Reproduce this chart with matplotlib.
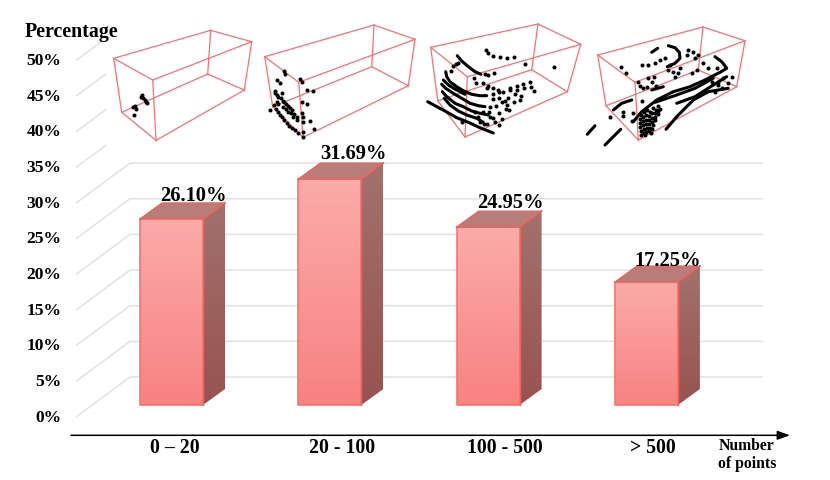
"""
Share of scans per point-count bucket: fake-3D bars with a small point cloud
thumbnail above each bar.
"""

import matplotlib
matplotlib.use("Agg")
import matplotlib.pyplot as plt
import numpy as np
from matplotlib.patches import Polygon

plt.rcParams["font.family"] = ["Liberation Serif", "DejaVu Serif"]
plt.rcParams["font.weight"] = "bold"

W, H = 830, 480

CATEGORIES = ["0 – 20", "20 - 100", "100 - 500", "> 500"]
VALUES = [26.10, 31.69, 24.95, 17.25]
VALUE_LABELS = ["26.10%", "31.69%", "24.95%", "17.25%"]
TICKS = [0, 5, 10, 15, 20, 25, 30, 35, 40, 45, 50]

# Thumbnail boxes: outer corners A, B, C, D then lower corners A', B', C', D' (image pixels)
BOX_1 = [(113.7, 58.3), (210.7, 30.3), (251.7, 41.7), (152.7, 80),
         (121.7, 112.3), (207.7, 74), (244.3, 90), (156, 140.3)]
BOX_2 = [(264.7, 56.7), (374, 25), (415, 39.3), (298.7, 82.3),
         (272.7, 106.7), (371.7, 66.7), (408.3, 85.7), (303, 137.3)]
BOX_3 = [(430.7, 47.3), (538, 24), (580.7, 44.3), (467.3, 76.7),
         (437.7, 100.7), (531.7, 69.7), (567.3, 91.7), (465, 137)]
BOX_4 = [(597.7, 55), (703, 27), (745, 40.7), (635, 82.3),
         (606, 105.7), (698.3, 70), (736.7, 86.7), (638.3, 140)]

# Scan points (image pixels)
DOTS_1 = [(142.3, 95), (140.7, 97), (143.3, 98.3), (145, 100.3), (147.3, 103.3), (146, 102),
          (135, 106), (133.3, 107.3), (135.7, 108.7), (134.3, 115)]
DOTS_2 = [(284, 71), (284.7, 73.7), (300.3, 79.3), (301.7, 81.7), (277.3, 80), (280, 82.7),
          (306.7, 89.7), (313.3, 91), (302, 101.7), (307, 103.7), (275.3, 91), (274.7, 93),
          (276.7, 95), (278.3, 96.7), (281.7, 93.3), (280.7, 98.3), (282.7, 101), (270, 109.7),
          (274, 105), (275.7, 109), (277.7, 111.7), (280, 115), (282, 117.3), (284.3, 120),
          (286.7, 122.7), (289.3, 126), (292.3, 128.3), (295, 130), (298.3, 132.7), (302.7, 132),
          (303.3, 137.3), (314.3, 129.3), (310.3, 121), (302.7, 121.7), (302.7, 116.7), (301.7, 113.3),
          (296.7, 116.7), (294, 114.3), (292.3, 110), (290.3, 108.3), (288.3, 106), (286, 104.3),
          (284, 102.3), (283.3, 106.7), (286, 109), (288.3, 111.7), (291, 113.3), (293.3, 117.3),
          (296.7, 120), (276.7, 101.7), (278.3, 104)]
DOTS_3 = [(474, 77.7), (475.7, 83.3), (483.3, 83.3), (487.3, 87.7), (488.3, 85.7), (493.3, 87.7),
          (498.3, 90), (503.3, 91.7), (510, 87.7), (516.7, 85.7), (523.3, 84), (530, 81.7),
          (531, 86.7), (534.3, 91), (524.3, 88.3), (516.7, 90), (521, 95.7), (515, 94.3),
          (510, 90), (499, 92.3), (493.3, 94), (492.7, 99), (499, 98.3), (505, 100.7),
          (514.3, 101.7), (520, 100), (508.3, 98.3), (502.3, 101.7), (506.7, 105), (505.7, 109),
          (509, 110.3), (495.7, 105.7), (490, 106.7), (483.3, 112.3), (489, 112.3), (490.3, 116.7),
          (495, 121.7), (499, 113.3), (501.7, 119), (499, 125), (462.3, 122.3), (475, 112.3),
          (478.3, 116.7), (486.7, 124.3), (484.3, 124.3), (480, 121.7), (493.3, 117.7),
          (486, 49.7), (488.3, 53.3), (493.3, 55.7), (500, 57.3), (506.7, 57.7), (514.3, 57.3),
          (485, 74.3), (488.3, 75), (493.7, 73.3), (453, 66), (455.7, 64.3), (457.7, 63), (451, 70.7),
          (525, 64), (554, 67.3)]
DOTS_4 = [(620.7, 66.7), (626, 73.3), (610, 116.7), (623.3, 112.3), (623.3, 116), (631.7, 120.7),
          (641.7, 100.7), (633.3, 113.3), (641.7, 65), (648.3, 65), (655, 63.3), (660, 60),
          (665, 58.3), (670, 65), (673.3, 71.7), (668.3, 70), (678.3, 73.3), (675, 76.7), (680, 68.3),
          (688.3, 50), (693.3, 51.7), (698.3, 55), (686.7, 55), (695, 58.3), (703.3, 63.3),
          (708.3, 68.3), (716.7, 68.3), (696.7, 70), (691.7, 73.3), (715, 91.7), (718.3, 85),
          (723.3, 78.3), (728.3, 83.3), (731.7, 76.7), (718.3, 81.7), (721.7, 88.3), (711.7, 81.7),
          (638.3, 81.7), (640, 85.7), (646.7, 86.7), (651.7, 81.7), (648.3, 78.3), (643, 87.5),
          (654, 77), (656, 86),
          # dense patch near the lower front corner
          (641, 115), (644, 112), (647, 110), (650, 112), (653, 108), (656, 110), (658, 106),
          (640, 119), (643, 117), (646, 115), (649, 116), (652, 113), (655, 113), (658, 111), (660, 109),
          (640, 123), (643, 121), (646, 120), (649, 120), (652, 118), (655, 117), (658, 114),
          (640, 127), (643, 125), (646, 124), (649, 124), (652, 122), (655, 120),
          (641, 131), (644, 129), (647, 128), (650, 128), (653, 125),
          (643, 133), (646, 132), (649, 131), (652, 129), (651, 133), (645, 135), (641, 135)]

# Scan lines that print as solid strokes
STROKES_3 = [[(457.3, 55.7), (461.7, 61), (468.3, 66.7), (475, 71.7), (481, 74.3)],
             [(445.7, 71.7), (446.7, 76.7), (450, 81.7), (456.7, 86.7), (463.3, 90.7), (471.7, 94.3), (480, 95.7), (486.7, 95.7)],
             [(441.7, 84.3), (445.7, 88.3), (453.3, 93.3), (461.7, 98.3), (470, 103.3), (478.3, 105.7), (485, 106.7)],
             [(443.3, 80), (448.3, 85), (456.7, 90), (465, 94.3)],
             [(442.3, 91.7), (446.7, 96.7), (455, 103.3), (463.3, 106.7), (471.7, 111), (480, 113.3), (488.3, 115)],
             [(444.3, 98.3), (450, 105), (458.3, 111), (466.7, 115), (476.7, 118.3), (483.3, 122.3)],
             [(427.7, 101.7), (435, 105.7), (445, 111), (456.7, 117.7), (468.3, 122.3), (480, 127.7), (493.3, 133)]]
STROKES_4 = [[(587.3, 134.3), (595, 125.7)],
             [(605, 145), (620.7, 129.3)],
             [(613.3, 110), (621.7, 103.3), (631.7, 100)],
             [(651.7, 52.3), (657.7, 48.3)],
             [(668.3, 45.7), (675, 47.7), (679.3, 52.3), (680, 58.3), (675, 63.3), (667.3, 66.7)],
             [(715, 56.7), (721.7, 61.7), (726.7, 68.3), (720, 72.3), (705, 80), (690, 86.7), (673.3, 91.7), (656.7, 100), (641.7, 111.7), (633.3, 121.7)],
             [(655, 102.3), (676.7, 95), (695, 88.3), (713.3, 78.3)],
             [(676.7, 103.3), (695, 96.7), (713.3, 85), (726.7, 76.7)],
             [(666, 129.3), (676.7, 116.7), (693.3, 100), (708.3, 91.7), (728.3, 88.3)],
             [(651.7, 90), (663.3, 86.7)]]

CLOUDS = [(BOX_1, DOTS_1, []), (BOX_2, DOTS_2, []), (BOX_3, DOTS_3, STROKES_3), (BOX_4, DOTS_4, STROKES_4)]
BOX_EDGES = [(0, 1), (1, 2), (2, 3), (3, 0), (0, 4), (1, 5), (2, 6), (3, 7),
             (4, 5), (5, 6), (6, 7), (7, 4)]

# Layout, in image pixels
X0, X_STEP = 171.5, 158.3      # first bar centre, bar spacing
Y0, PX_PER_PCT = 405.0, 7.13   # bar base, height of one percent
BAR_W = 63 / X_STEP
DEPTH_X, DEPTH_Y = 22 / X_STEP, 16 / PX_PER_PCT

C_GRID = "#e2e2e2"
C_EDGE = "#f0625c"
C_BOX = "#fb6f72"
C_TOP = "#b87d79"


def gradient_face(ax, corners, top, bottom):
    xs = [c[0] for c in corners]
    ys = [c[1] for c in corners]
    top, bottom = np.array(matplotlib.colors.to_rgb(top)), np.array(matplotlib.colors.to_rgb(bottom))
    t = np.linspace(0, 1, 64)[:, None]
    img = (top + (bottom - top) * t)[:, None, :]
    im = ax.imshow(img, extent=(min(xs), max(xs), min(ys), max(ys)), aspect="auto", zorder=3)
    clip = Polygon(corners, closed=True, transform=ax.transData, fc="none", ec="none")
    ax.add_patch(clip)
    im.set_clip_path(clip)


def draw_bar(ax, x, value):
    left, right = x - BAR_W / 2, x + BAR_W / 2
    front = [(left, 0), (right, 0), (right, value), (left, value)]
    side = [(right, 0), (right + DEPTH_X, DEPTH_Y), (right + DEPTH_X, value + DEPTH_Y), (right, value)]
    top = [(left, value), (right, value), (right + DEPTH_X, value + DEPTH_Y), (left + DEPTH_X, value + DEPTH_Y)]
    gradient_face(ax, side, "#a2716c", "#985350")
    gradient_face(ax, front, "#fbabaa", "#f88282")
    ax.add_patch(Polygon(top, closed=True, fc=C_TOP, ec="none", zorder=3))
    # only the edges that show a red outline
    ax.plot([left, left, right, right], [value, 0, 0, value], color="#f8736f", lw=1.2, zorder=4)
    ax.plot([left, right, right + DEPTH_X], [value, value, value + DEPTH_Y], color=C_EDGE, lw=1.2, zorder=4)
    ax.plot([left, left + DEPTH_X, right + DEPTH_X], [value, value + DEPTH_Y, value + DEPTH_Y], color=C_EDGE, lw=0.9, zorder=4)
    ax.plot([right, right], [0, value], color=C_EDGE, lw=1.0, zorder=4)


def main():
    fig = plt.figure(figsize=(W / 100, H / 100), dpi=100)
    ax = fig.add_axes([0, 0, 1, 1])
    ax.axis("off")

    # grid floor: each level runs back along a diagonal, then across the wall
    wall_l, wall_r = (130 - X0) / X_STEP, (763 - X0) / X_STEP
    diag_l = (76 - X0) / X_STEP
    front_y, back_y = -12 / PX_PER_PCT, 28 / PX_PER_PCT
    diag_frac = [1, 1, 1, 1, 1, 1, 1, 0.57, 0.56, 0.56, 0.48]
    for t, frac in zip(TICKS, diag_frac):
        xs = [diag_l, diag_l + (wall_l - diag_l) * frac]
        ys = [t + front_y, t + front_y + (back_y - front_y) * frac]
        if frac == 1:
            xs.append(wall_r)
            ys.append(t + back_y)
        ax.plot(xs, ys, color=C_GRID, lw=1.1, zorder=1, solid_capstyle="butt")
        ax.text((61.5 - X0) / X_STEP, t + (405 - 417.5) / PX_PER_PCT, f"{t}%", ha="right", va="center",
                fontsize=12.6, color="black", zorder=6)

    label_dx = [21.5, 23.5, 22, 21]
    label_dy = [2, 4, 3, 0]
    cat_dx = [3.5, 12.5, 17, 6]
    for i, (cat, val, lab) in enumerate(zip(CATEGORIES, VALUES, VALUE_LABELS)):
        draw_bar(ax, i, val)
        ax.text(i + label_dx[i] / X_STEP, val + DEPTH_Y + label_dy[i] / PX_PER_PCT, lab, ha="center", va="baseline",
                fontsize=14.8, zorder=6)
        ax.text(i + cat_dx[i] / X_STEP, (405 - 448) / PX_PER_PCT, cat, ha="center", va="center", fontsize=14.2)

    ax.set_xlim(-X0 / X_STEP, (W - X0) / X_STEP)
    ax.set_ylim((Y0 - H) / PX_PER_PCT, Y0 / PX_PER_PCT)

    # thumbnails sit on an overlay in image pixels
    ov = fig.add_axes([0, 0, 1, 1], facecolor="none")
    ov.axis("off")
    for box, dots, strokes in CLOUDS:
        for a, b in BOX_EDGES:
            ov.plot([box[a][0], box[b][0]], [box[a][1], box[b][1]], color=C_BOX, lw=0.9, zorder=2)
        px, py = zip(*dots)
        ov.plot(px, py, "o", color="black", ms=2.9, mew=0, zorder=3)
        for s in strokes:
            sx, sy = zip(*s)
            ov.plot(sx, sy, color="black", lw=2.2, zorder=3, solid_capstyle="round")
    ov.set_xlim(0, W)
    ov.set_ylim(H, 0)

    ov.text(25, 32, "Percentage", ha="left", va="center", fontsize=14.4)
    ov.text(747, 446, "Number", ha="center", va="center", fontsize=11.3)
    ov.text(747, 464, "of points", ha="center", va="center", fontsize=11.3)
    ov.annotate("", xy=(790, 435.3), xytext=(71, 435.3),
                arrowprops=dict(arrowstyle="-|>,head_length=0.75,head_width=0.27", color="black", lw=1.1,
                                shrinkA=0, shrinkB=0))

    fig.savefig("out.png", dpi=100)
    plt.close(fig)


if __name__ == "__main__":
    main()
